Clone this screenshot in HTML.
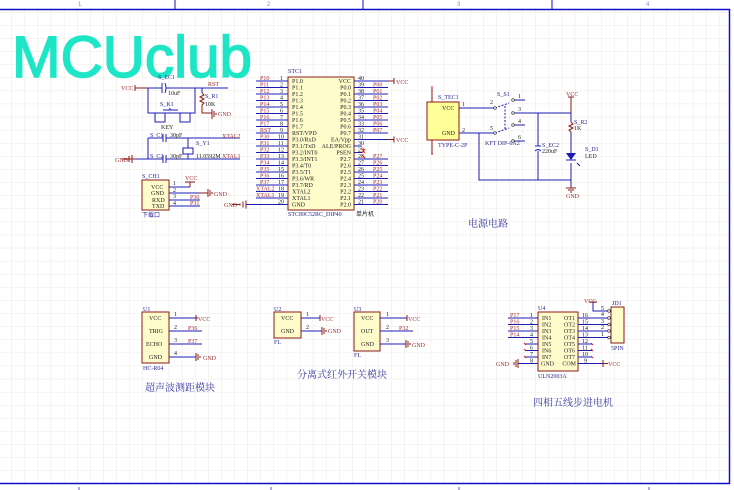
<!DOCTYPE html>
<html><head><meta charset="utf-8"><style>
html,body{margin:0;padding:0;background:#fff;}
svg{display:block;}
.w{stroke:#1c1cb4;stroke-width:1;fill:none;}
.r{stroke:#8b1a1a;stroke-width:1;fill:none;}
.bx{stroke:#8b1a1a;stroke-width:1;fill:#fffccb;}
.t{font-family:"Liberation Serif",serif;font-size:6px;fill:#222;}
.n{font-family:"Liberation Serif",serif;font-size:6px;fill:#a03030;}
.d{font-family:"Liberation Serif",serif;font-size:6px;fill:#2a2a90;}
.c{font-family:"Liberation Serif","Noto Serif CJK SC",serif;font-size:10px;fill:#3a3aa0;}
</style></head><body>
<svg width="734" height="490" viewBox="0 0 734 490" xmlns="http://www.w3.org/2000/svg">
<defs>
<pattern id="g" x="11.5" y="12" width="13.1" height="13.1" patternUnits="userSpaceOnUse">
<path d="M0 0H13.1M0 0V13.1" stroke="#ebe9e1" stroke-width="1" fill="none"/>
</pattern>
</defs>
<rect width="734" height="490" fill="#fff"/>
<rect x="0" y="9" width="729" height="474" fill="url(#g)"/>
<path d="M0 9.5H729.5V483.5H0" stroke="#1010c8" stroke-width="1.5" fill="none"/>
<path d="M175 0V9M363 0V9M552 0V9" stroke="#1010c8"/>
<g font-family="Liberation Sans" font-size="6" fill="#8888dd"><text x="78" y="6">1</text><text x="267" y="6">2</text><text x="457" y="6">3</text><text x="646" y="6">4</text></g>
<rect x="78" y="487" width="2" height="3" fill="#aaaaee"/><rect x="270" y="487" width="2" height="3" fill="#aaaaee"/><rect x="458" y="487" width="2" height="3" fill="#aaaaee"/><rect x="648" y="487" width="2" height="3" fill="#aaaaee"/>

<text x="12" y="77" font-family="Liberation Sans" font-size="58" fill="#1de6c6" stroke="#1de6c6" stroke-width="1.5" textLength="240" lengthAdjust="spacingAndGlyphs">MCUclub</text>

<!-- reset / crystal -->
<text x="121" y="90" class="n">VCC</text>
<path class="r" d="M135 85V91M135 88H148"/>
<path class="w" d="M148 88H162M166 88H228M148 88V113H195V88"/>
<path class="w" d="M162 83V93M165 83Q167 88 165 93"/>
<text x="158" y="79" class="d">S_EC1</text><text x="168" y="95" class="t">10uF</text>
<text x="208" y="86" class="n">RST</text>
<path class="w" d="M202 88V93"/><path class="r" d="M202 93l2 2-4 2 4 2-4 2 4 2-2 2V113H212"/>
<text x="205" y="98" class="d">S_R1</text><text x="205" y="106" class="t">10K</text>
<path class="r" d="M212 109V119M214 111V117M216 113V115"/><text x="218" y="116" class="n">GND</text>
<path class="w" d="M163 110H178M170 108V110M155 113V122H165V113M180 113V122H190V113"/>
<text x="160" y="106" class="d">S_K1</text><text x="161" y="129" class="t">KEY</text>
<path class="w" d="M148 138H163M166 138H240M148 138V159M136 159H163M166 159H240M188 138V148M188 154V159"/>
<path class="w" d="M163 134V142M166 134V142M163 155V163M166 155V163"/>
<rect x="183" y="148" width="10" height="6" fill="none" stroke="#1c1cb4"/>
<path class="r" d="M122 159H136M132 155V163M129 156V162M126 158V160"/><text x="115" y="162" class="n">GND</text>
<text x="150" y="137" class="d">S_C1</text><text x="170" y="137" class="t">30pF</text>
<text x="150" y="158" class="d">S_C2</text><text x="170" y="158" class="t">30pF</text>
<text x="196" y="145" class="d">S_Y1</text><text x="196" y="158" class="t">11.0592M</text>
<text x="222" y="138" class="n">XTAL2</text><text x="222" y="158" class="n">XTAL1</text>

<!-- S_CH1 -->
<text x="142" y="178" class="d">S_CH1</text>
<rect x="142" y="180" width="27" height="30" class="bx"/>
<g class="t"><text x="151" y="189">VCC</text><text x="151" y="195">GND</text><text x="152" y="202">RXD</text><text x="152" y="208">TXD</text>
<text x="173" y="185">1</text><text x="173" y="192">2</text><text x="173" y="198">3</text><text x="173" y="205">4</text></g>
<path class="w" d="M169 187H190M169 193H208M169 200H200M169 206H200"/>
<path class="r" d="M190 187V182M185 182H195"/><text x="185" y="180" class="n">VCC</text>
<path class="r" d="M200 193H208M208 189V197M210 190V196M212 192V194"/><text x="214" y="196" class="n">GND</text>
<text x="190" y="199" class="n">P30</text><text x="190" y="205" class="n">P31</text>
<text x="142" y="217" class="d">下载口</text>

<!-- MCU -->
<text x="288" y="73" class="d">STC1</text>
<rect x="288" y="77" width="66" height="133" class="bx"/>
<g class="w">
<path d="M256 81H288M256 87.5H288M256 94H288M256 100.5H288M256 107H288M256 113.5H288M256 120H288M256 126.5H288M256 133H288M256 139.5H288M256 146H288M256 152.5H288M256 159H288M256 165.5H288M256 172H288M256 178.5H288M256 185H288M256 191.5H288M256 198H288M246 204.5H288"/>
<path d="M354 81H388M354 87.5H388M354 94H388M354 100.5H388M354 107H388M354 113.5H388M354 120H388M354 126.5H388M354 133H388M354 139.5H388M354 146H362M354 152.5H362M354 159H388M354 165.5H388M354 172H388M354 178.5H388M354 185H388M354 191.5H388M354 198H388M354 204.5H388"/>
</g>
<path class="r" d="M388 81H394M394 78V84M388 139.5H394M394 136.5V142.5M246 200.5V208.5M243 201.5V207.5M240 203.5V205.5M232 204.5H240"/>
<text x="396" y="84" class="n">VCC</text><text x="396" y="142" class="n">VCC</text><text x="224" y="207" class="n">GND</text>
<g class="t">
<text x="292" y="83">P1.0</text><text x="292" y="89.5">P1.1</text><text x="292" y="96">P1.2</text><text x="292" y="102.5">P1.3</text><text x="292" y="109">P1.4</text><text x="292" y="115.5">P1.5</text><text x="292" y="122">P1.6</text><text x="292" y="128.5">P1.7</text><text x="292" y="135">RST/VPD</text><text x="292" y="141.5">P3.0/RxD</text><text x="292" y="148">P3.1/TxD</text><text x="292" y="154.5">P3.2/INT0</text><text x="292" y="161">P3.3/INT1</text><text x="292" y="167.5">P3.4/T0</text><text x="292" y="174">P3.5/T1</text><text x="292" y="180.5">P3.6/WR</text><text x="292" y="187">P3.7/RD</text><text x="292" y="193.5">XTAL2</text><text x="292" y="200">XTAL1</text><text x="292" y="206.5">GND</text>
<text x="351" y="83" text-anchor="end">VCC</text><text x="351" y="89.5" text-anchor="end">P0.0</text><text x="351" y="96" text-anchor="end">P0.1</text><text x="351" y="102.5" text-anchor="end">P0.2</text><text x="351" y="109" text-anchor="end">P0.3</text><text x="351" y="115.5" text-anchor="end">P0.4</text><text x="351" y="122" text-anchor="end">P0.5</text><text x="351" y="128.5" text-anchor="end">P0.6</text><text x="351" y="135" text-anchor="end">P0.7</text><text x="351" y="141.5" text-anchor="end">EA/Vpp</text><text x="351" y="148" text-anchor="end">ALE/PROG</text><text x="351" y="154.5" text-anchor="end">PSEN</text><text x="351" y="161" text-anchor="end">P2.7</text><text x="351" y="167.5" text-anchor="end">P2.6</text><text x="351" y="174" text-anchor="end">P2.5</text><text x="351" y="180.5" text-anchor="end">P2.4</text><text x="351" y="187" text-anchor="end">P2.3</text><text x="351" y="193.5" text-anchor="end">P2.2</text><text x="351" y="200" text-anchor="end">P2.1</text><text x="351" y="206.5" text-anchor="end">P2.0</text>
<text x="280" y="80">1</text><text x="280" y="86.5">2</text><text x="280" y="93">3</text><text x="280" y="99.5">4</text><text x="280" y="106">5</text><text x="280" y="112.5">6</text><text x="280" y="119">7</text><text x="280" y="125.5">8</text><text x="280" y="132">9</text><text x="278" y="138.5">10</text><text x="278" y="145">11</text><text x="278" y="151.5">12</text><text x="278" y="158">13</text><text x="278" y="164.5">14</text><text x="278" y="171">15</text><text x="278" y="177.5">16</text><text x="278" y="184">17</text><text x="278" y="190.5">18</text><text x="278" y="197">19</text><text x="278" y="203.5">20</text>
<text x="358" y="80">40</text><text x="358" y="86.5">39</text><text x="358" y="93">38</text><text x="358" y="99.5">37</text><text x="358" y="106">36</text><text x="358" y="112.5">35</text><text x="358" y="119">34</text><text x="358" y="125.5">33</text><text x="358" y="132">32</text><text x="358" y="138.5">31</text><text x="358" y="145">30</text><text x="358" y="151.5">29</text><text x="358" y="158">28</text><text x="358" y="164.5">27</text><text x="358" y="171">26</text><text x="358" y="177.5">25</text><text x="358" y="184">24</text><text x="358" y="190.5">23</text><text x="358" y="197">22</text><text x="358" y="203.5">21</text>
</g>
<g class="n">
<text x="260" y="80">P10</text><text x="260" y="86.5">P11</text><text x="260" y="93">P12</text><text x="260" y="99.5">P13</text><text x="260" y="106">P14</text><text x="260" y="112.5">P15</text><text x="260" y="119">P16</text><text x="260" y="125.5">P17</text><text x="260" y="132">RST</text><text x="260" y="138.5">P30</text><text x="260" y="145">P31</text><text x="260" y="151.5">P32</text><text x="260" y="158">P33</text><text x="260" y="164.5">P34</text><text x="260" y="171">P35</text><text x="260" y="177.5">P36</text><text x="260" y="184">P37</text><text x="256" y="190.5">XTAL2</text><text x="256" y="197">XTAL1</text>
<text x="373" y="86.5">P00</text><text x="373" y="93">P01</text><text x="373" y="99.5">P02</text><text x="373" y="106">P03</text><text x="373" y="112.5">P04</text><text x="373" y="119">P05</text><text x="373" y="125.5">P06</text><text x="373" y="132">P07</text>
<text x="373" y="158">P27</text><text x="373" y="164.5">P26</text><text x="373" y="171">P25</text><text x="373" y="177.5">P24</text><text x="373" y="184">P23</text><text x="373" y="190.5">P22</text><text x="373" y="197">P21</text><text x="373" y="203.5">P20</text>
</g>
<path d="M362 149l3 4M365 149l-3 4M362 155l3 3" stroke="#e02020" stroke-width="1"/>
<text x="288" y="216" class="d">STC89C52RC_DIP40</text><text x="356" y="216" class="t" fill="#888" font-family="Noto Sans CJK SC">单片机</text>

<!-- power -->
<text x="438" y="99" class="d">S_TEC1</text>
<rect x="427" y="102" width="32" height="38" fill="#ffff99" stroke="#8b1a1a"/>
<path class="r" d="M432 88V102M432 140V154"/><path d="M431 87h2M431 154h2" stroke="#e02020"/>
<g class="t"><text x="442" y="110">VCC</text><text x="442" y="135">GND</text><text x="462" y="106">1</text><text x="462" y="132">2</text></g>
<text x="438" y="147" class="d">TYPE-C-2P</text>
<path class="w" d="M459 108H495M459 133H479V180H571M459 133H495"/>
<path class="w" d="M495 108l14-5M495 133l14-5M505 106V130" stroke-dasharray="2,1.5"/>
<path class="w" d="M514 100H525M514 113H571M514 125H525M514 141H525"/>
<g fill="#fff" stroke="#222" stroke-width=".6"><circle cx="495" cy="108" r="1.3"/><circle cx="495" cy="133" r="1.3"/><circle cx="513" cy="100" r="1.3"/><circle cx="513" cy="113" r="1.3"/><circle cx="513" cy="125" r="1.3"/><circle cx="513" cy="141" r="1.3"/></g>
<g class="t"><text x="490" y="104">2</text><text x="490" y="130">5</text><text x="518" y="98">1</text><text x="518" y="111">3</text><text x="518" y="123">4</text><text x="518" y="139">6</text></g>
<text x="497" y="96" class="d">S_S1</text><text x="485" y="145" class="d">KFT DIP-6A2</text>
<path class="w" d="M538 113V146M538 151V180M535 146H541M535 151Q538 148 541 151"/>
<text x="542" y="147" class="d">S_EC2</text><text x="542" y="153" class="t">220uF</text>
<path class="r" d="M571 97V113"/><path class="r" d="M568 97H574"/><text x="566" y="96" class="n">VCC</text>
<path class="w" d="M571 113V122"/><path class="r" d="M571 122l2 2-4 2 4 2-4 2 2 2"/><path class="w" d="M571 132V153M571 163V188"/>
<text x="574" y="124" class="d">S_R2</text><text x="574" y="130" class="t">1K</text>
<path d="M566 153H576L571 160Z" fill="#1c1cb4"/><path class="w" d="M566 160H576M577 163l3 3M579 165l1 1"/>
<text x="585" y="151" class="d">S_D1</text><text x="585" y="158" class="t">LED</text>
<path class="r" d="M566 188H576M568 190H574M570 192H572"/><text x="566" y="198" class="n">GND</text>
<text x="468" y="227" class="c">电源电路</text>

<!-- U1 -->
<text x="143" y="311" class="d">U1</text>
<rect x="142" y="312" width="27" height="51" class="bx"/>
<g class="t"><text x="149" y="320">VCC</text><text x="149" y="333">TRIG</text><text x="146" y="346">ECHO</text><text x="149" y="359">GND</text><text x="174" y="316">1</text><text x="174" y="329">2</text><text x="174" y="342">3</text><text x="174" y="355">4</text></g>
<path class="w" d="M169 318H196M169 331H202M169 344H202M169 357H196"/>
<path class="r" d="M196 315V321M196 318H198M196 353V361M198 354V360M200 356V358"/>
<text x="198" y="321" class="n">VCC</text><text x="188" y="330" class="n">P36</text><text x="188" y="343" class="n">P37</text><text x="203" y="360" class="n">GND</text>
<text x="143" y="370" class="d">HC-R04</text>
<text x="145" y="391" class="c">超声波测距模块</text>

<!-- U2 U3 -->
<text x="274" y="311" class="d">U2</text>
<rect x="274" y="312" width="27" height="26" class="bx"/>
<g class="t"><text x="281" y="320">VCC</text><text x="281" y="333">GND</text><text x="306" y="316">1</text><text x="306" y="329">2</text></g>
<path class="w" d="M301 318H320M301 331H322"/><path class="r" d="M320 315V321M322 327V335M324 328V334M326 330V332"/>
<text x="321" y="321" class="n">VCC</text><text x="328" y="333" class="n">GND</text><text x="274" y="344" class="d">FL</text>
<text x="354" y="311" class="d">U3</text>
<rect x="354" y="312" width="26" height="39" class="bx"/>
<g class="t"><text x="361" y="320">VCC</text><text x="361" y="333">OUT</text><text x="361" y="346">GND</text><text x="386" y="316">1</text><text x="386" y="329">2</text><text x="386" y="342">3</text></g>
<path class="w" d="M380 318H407M380 331H413M380 344H406"/><path class="r" d="M407 315V321M406 340V348M408 341V347M410 343V345"/>
<text x="408" y="321" class="n">VCC</text><text x="399" y="330" class="n">P32</text><text x="412" y="347" class="n">GND</text><text x="354" y="357" class="d">FL</text>
<text x="297" y="378" class="c">分离式红外开关模块</text>

<!-- U4 -->
<text x="538" y="310" class="d">U4</text>
<rect x="538" y="312" width="40" height="59" class="bx"/>
<g class="t" font-size="5.5">
<text x="542" y="320">IN1</text><text x="542" y="326.5">IN2</text><text x="542" y="333">IN3</text><text x="542" y="339.5">IN4</text><text x="542" y="346">IN5</text><text x="542" y="352.5">IN6</text><text x="542" y="359">IN7</text><text x="541" y="365.5">GND</text>
<text x="575" y="320" text-anchor="end">OT1</text><text x="575" y="326.5" text-anchor="end">OT2</text><text x="575" y="333" text-anchor="end">OT3</text><text x="575" y="339.5" text-anchor="end">OT4</text><text x="575" y="346" text-anchor="end">OT5</text><text x="575" y="352.5" text-anchor="end">OT6</text><text x="575" y="359" text-anchor="end">OT7</text><text x="576" y="365.5" text-anchor="end">COM</text>
<text x="530" y="317">1</text><text x="530" y="323.5">2</text><text x="530" y="330">3</text><text x="530" y="336.5">4</text><text x="530" y="343">5</text><text x="530" y="349.5">6</text><text x="530" y="356">7</text><text x="530" y="362.5">8</text>
<text x="582" y="317">16</text><text x="582" y="323.5">15</text><text x="582" y="330">14</text><text x="582" y="336.5">13</text><text x="582" y="343">12</text><text x="582" y="349.5">11</text><text x="582" y="356">10</text><text x="584" y="362.5">9</text>
</g>
<path class="w" d="M508 318H538M508 324.5H538M508 331H538M508 337.5H538M525 344H538M525 350.5H538M525 357H538M518 363.5H538M578 318H608M578 324.5H608M578 331H608M578 337.5H608M578 344H592M578 350.5H592M578 357H592M578 363.5H603"/>
<path class="r" d="M518 359V368M516 360V367M514 362V365M603 363.5H608M603 360V367"/>
<path d="M524 343l2 2M524 349l2 2M524 356l2 2M591 343l2 2M591 349l2 2M591 356l2 2" stroke="#e02020"/>
<g class="n"><text x="510" y="317">P17</text><text x="510" y="323.5">P16</text><text x="510" y="330">P15</text><text x="510" y="336.5">P14</text><text x="496" y="366">GND</text><text x="608" y="366">VCC</text></g>
<text x="538" y="378" class="d">ULN2003A</text>
<path class="r" d="M589 302H597"/><text x="584" y="303" class="n">VCC</text>
<path class="w" d="M593 302V311H608"/>
<rect x="611" y="307" width="13" height="36" fill="#fffccb" stroke="#8b1a1a"/>
<g fill="#fff" stroke="#222" stroke-width=".6"><circle cx="609" cy="311" r="1.3"/><circle cx="609" cy="318" r="1.3"/><circle cx="609" cy="324.5" r="1.3"/><circle cx="609" cy="331" r="1.3"/><circle cx="609" cy="337.5" r="1.3"/></g>
<g class="t" font-size="5"><text x="601" y="310">5</text><text x="601" y="316">4</text><text x="601" y="323">3</text><text x="601" y="329">2</text><text x="601" y="336">1</text></g>
<text x="612" y="305" class="d">JD1</text><text x="611" y="350" class="d">5PIN</text>
<text x="533" y="406" class="c">四相五线步进电机</text>
</svg>
</body></html>
